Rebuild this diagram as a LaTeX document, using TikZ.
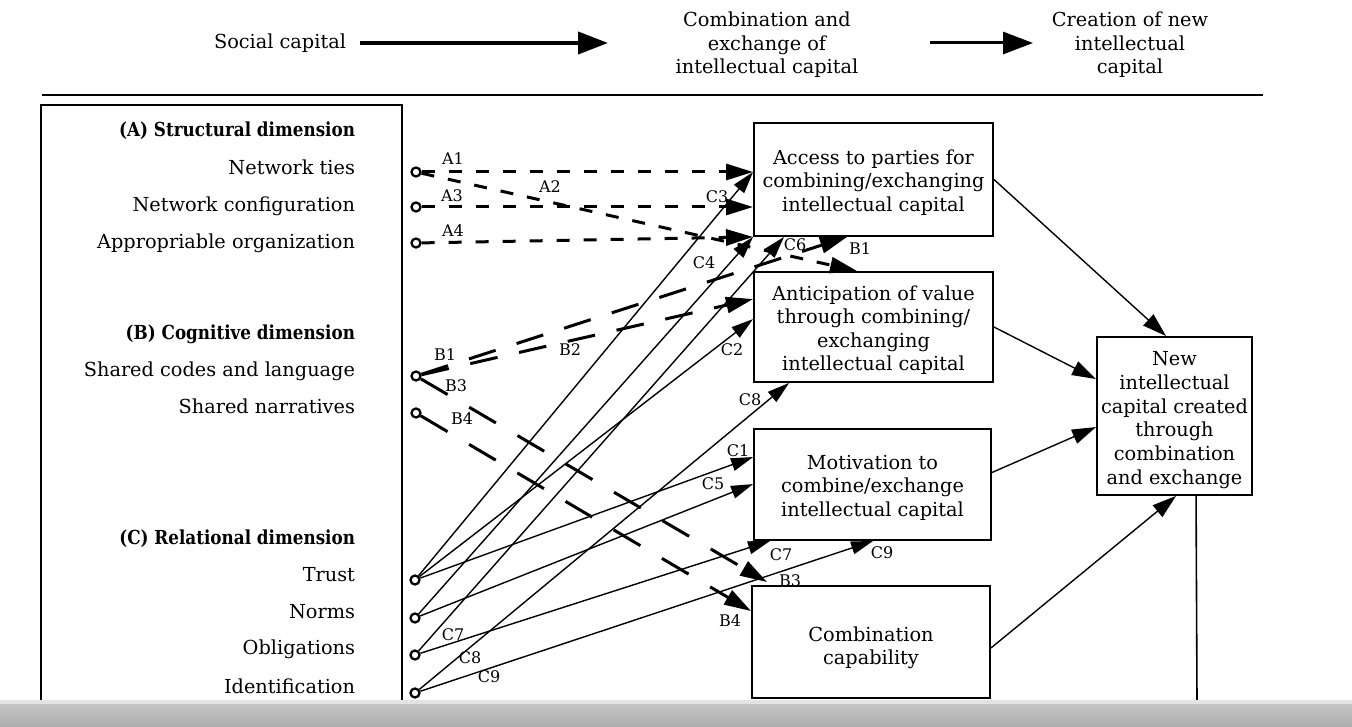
\documentclass[tikz,border=0pt]{standalone}
\usepackage{fontspec}
\setmainfont{DejaVu Serif}
\newfontfamily\hdfont[FakeStretch=0.87]{DejaVu Serif}
\usetikzlibrary{arrows.meta,calc}
\begin{document}
\begin{tikzpicture}[x=1pt,y=-1pt,
  txt/.style={font=\fontsize{19.3}{23.5}\selectfont, inner sep=0pt, outer sep=0pt},
  lft/.style={txt, anchor=mid east},
  hd/.style={lft, font=\hdfont\fontsize{19.3}{23.5}\selectfont\bfseries},
  box/.style={draw, line width=1.9pt, inner sep=0pt},
  btxt/.style={txt, align=center},
  src/.style={circle, draw, line width=2.3pt, minimum size=9pt, inner sep=0pt},
  tag/.style={font=\fontsize{16}{18}\selectfont, inner sep=0pt},
  dA/.style={line width=3pt, dash pattern=on 13pt off 14pt, -{Triangle[length=27pt,width=16pt]}},
  dB/.style={line width=3pt, dash pattern=on 28pt off 22pt, -{Triangle[length=27pt,width=16pt]}},
  dBB/.style={line width=3pt, dash pattern=on 31pt off 25pt, -{Triangle[length=27pt,width=16pt]}},
  cl/.style={line width=1.4pt, -{Triangle[length=22pt,width=13pt]}},
  rl/.style={line width=1.4pt, -{Triangle[length=24pt,width=15pt]}},
  ]
\useasboundingbox (0,0) rectangle (1352,727);
\fill[white] (0,0) rectangle (1352,727);

% header
\node[txt, anchor=mid] (hsoc) at (280,46) {Social capital};
\node[txt, align=center] (hcomb) at (767,45) {Combination and\\exchange of\\intellectual capital};
\node[txt, align=center] (hcrea) at (1130,45) {Creation of new\\intellectual\\capital};
\coordinate (h1a) at (360,43); \coordinate (h1b) at (608,43);
\coordinate (h2a) at (930,43); \coordinate (h2b) at (1033,43);
\draw[line width=4pt, -{Triangle[length=30pt,width=22pt]}] (h1a) -- (h1b);
\draw[line width=3pt, -{Triangle[length=30pt,width=22pt]}] (h2a) -- (h2b);
\coordinate (r1) at (42,95); \coordinate (r2) at (1263,95);
\draw[line width=1.7pt] (r1) -- (r2);

% left box
\node[draw, line width=1.6pt, minimum width=361pt, minimum height=600pt, inner sep=0pt] (lb) at (221.5,405) {};
\node[hd]  (tA)  at (355,134) {(A) Structural dimension};
\node[lft] (tA1) at (355,172) {Network ties};
\node[lft] (tA2) at (355,209) {Network configuration};
\node[lft] (tA3) at (355,246) {Appropriable organization};
\node[hd]  (tB)  at (355,337) {(B) Cognitive dimension};
\node[lft] (tB1) at (355,374) {Shared codes and language};
\node[lft] (tB2) at (355,411) {Shared narratives};
\node[hd]  (tC)  at (355,542) {(C) Relational dimension};
\node[lft] (tC1) at (355,579) {Trust};
\node[lft] (tC2) at (355,616) {Norms};
\node[lft] (tC3) at (355,652) {Obligations};
\node[lft] (tC4) at (355,691) {Identification};

% sources
\node[src] (nt) at (416,172) {};
\node[src] (nc) at (416,207) {};
\node[src] (ao) at (416,243) {};
\node[src] (sc) at (416,376) {};
\node[src] (sn) at (416,413) {};
\node[src] (tr) at (415,580) {};
\node[src] (no) at (415,618) {};
\node[src] (ob) at (415,655) {};
\node[src] (id) at (415,693) {};

% boxes
\node[box, minimum width=239pt, minimum height=113pt] (b1) at (873.5,179.5) {};
\node[btxt] (b1t) at ($(b1)+(0,3)$) {Access to parties for\\combining/exchanging\\intellectual capital};
\node[box, minimum width=239pt, minimum height=110pt] (b2) at (873.5,327) {};
\node[btxt] (b2t) at ($(b2)+(0,3)$) {Anticipation of value\\through combining/\\exchanging\\intellectual capital};
\node[box, minimum width=237pt, minimum height=111pt] (b3) at (872.5,484.5) {};
\node[btxt] (b3t) at ($(b3)+(0,3)$) {Motivation to\\combine/exchange\\intellectual capital};
\node[box, minimum width=238pt, minimum height=112pt] (b4) at (871,642) {};
\node[btxt] (b4t) at ($(b4)+(0,6)$) {Combination\\capability};
\node[box, minimum width=155pt, minimum height=158pt] (nw) at (1174.5,416) {};
\node[txt, align=center, font=\fontsize{19.3}{23.7}\selectfont] (nwt) at ($(nw)+(0,4)$) {New\\intellectual\\capital created\\through\\combination\\and exchange};

% structural (dashed)
\draw[dA] (nt) -- (b1.west |- nt);
\draw[dA] (nt) -- ($(b2.north west)+(104,0)$);
\draw[dA] (nc) -- (b1.west |- nc);
\draw[dA] (ao) -- (b1.south west);
% cognitive (dashed)
\draw[dB] (sc) -- ($(b1.south west)+(94,0)$);
\draw[dB] (sc) -- ($(b2.north west)+(0,28)$);
\draw[dBB] (sc) -- ($(b4.north west)+(16,-3)$);
\draw[dBB] (sn) -- ($(b4.north west)+(0,26)$);
% relational
\draw[cl] (tr) -- ($(b1.north west)+(0,50)$);
\draw[cl] (tr) -- ($(b2.north west)+(0,48)$);
\draw[cl] (tr) -- ($(b3.north west)+(0,29)$);
\draw[cl] (no) -- (b1.south west);
\draw[cl] (no) -- ($(b3.north west)+(0,56)$);
\draw[cl] (ob) -- ($(b1.south west)+(31,0)$);
\draw[cl] (ob) -- ($(b3.south west)+(17,0)$);
\draw[cl] (id) -- ($(b2.south west)+(36,0)$);
\draw[cl] (id) -- ($(b3.south west)+(120,0)$);

% to new intellectual capital
\draw[rl] (b1.east) -- ($(nw.north west)+(70,0)$);
\draw[rl] (b2.east) -- ($(nw.north west)+(0,43)$);
\draw[rl] ($(b3.east)+(0,-12)$) -- ($(nw.north west)+(0,91)$);
\draw[rl] ($(b4.east)+(0,6)$) -- ($(nw.south west)+(80,0)$);
\coordinate (vend) at (1197,702);
\draw[line width=1.6pt] ($(nw.south west)+(100,0)$) -- (vend);

% tags
\node[tag] (lA1) at (453,159) {A1};
\node[tag] (lA2) at (550,187) {A2};
\node[tag] (lA3) at (452,196) {A3};
\node[tag] (lA4) at (453,231) {A4};
\node[tag] (lB1) at (445,355) {B1};
\node[tag] (lB1e) at (860,249) {B1};
\node[tag] (lB2) at (570,350) {B2};
\node[tag] (lB3) at (456,386) {B3};
\node[tag] (lB3e) at (790,581) {B3};
\node[tag] (lB4) at (462,419) {B4};
\node[tag] (lB4e) at (730,621) {B4};
\node[tag] (lC1) at (738,451) {C1};
\node[tag] (lC2) at (732,350) {C2};
\node[tag] (lC3) at (717,197) {C3};
\node[tag] (lC4) at (704,263) {C4};
\node[tag] (lC5) at (713,484) {C5};
\node[tag] (lC6) at (795,245) {C6};
\node[tag] (lC7) at (781,555) {C7};
\node[tag] (lC7s) at (453,635) {C7};
\node[tag] (lC8) at (750,400) {C8};
\node[tag] (lC8s) at (470,658) {C8};
\node[tag] (lC9) at (882,553) {C9};
\node[tag] (lC9s) at (489,677) {C9};

% window bar at bottom
\fill[gray!22] (0,700) rectangle (1352,704);
\shade[top color=gray!45, bottom color=gray!65] (0,704) rectangle (1352,727);
\end{tikzpicture}
\end{document}
